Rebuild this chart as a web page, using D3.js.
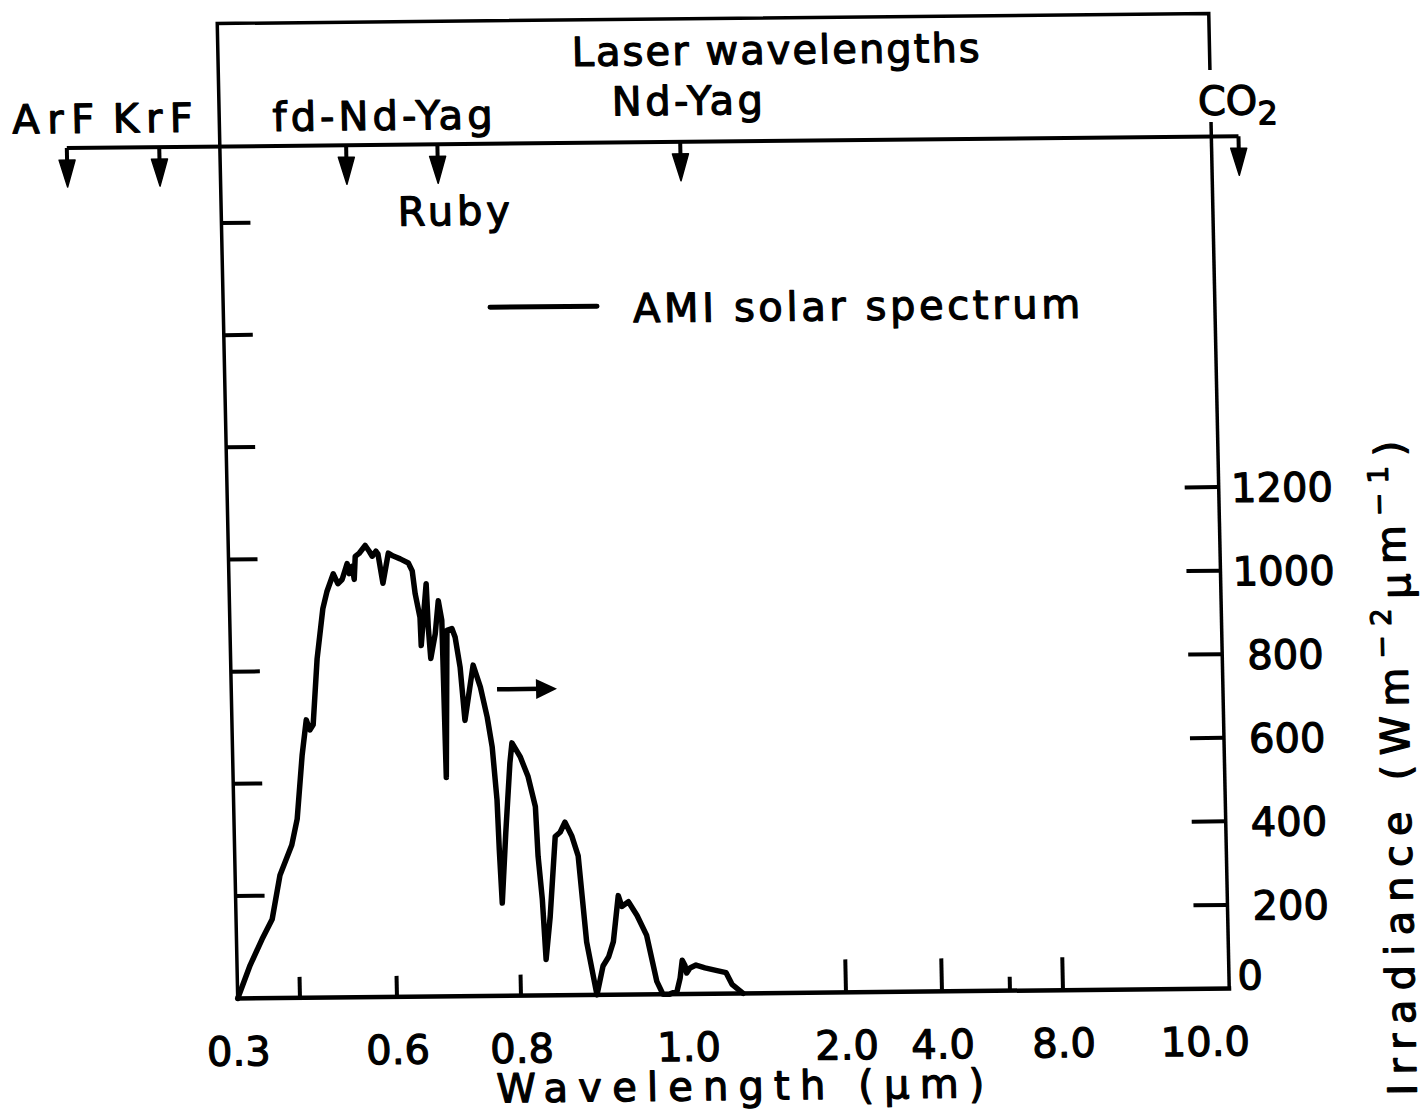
<!DOCTYPE html>
<html>
<head>
<meta charset="utf-8">
<script src="https://cdnjs.cloudflare.com/ajax/libs/d3/7.8.5/d3.min.js"></script>
<style>
  body { margin: 0; background: #fff; }
  svg { display: block; }
  text { font-family: 'DejaVu Sans', sans-serif; font-size: 40px; fill: #000; stroke: #000; stroke-width: 1.2px; stroke-linejoin: round; }
</style>
</head>
<body>
<svg id="chart" width="1426" height="1118"></svg>
<script>
// AM1 solar spectrum (wavelength in um, irradiance in W m-2 um-1)
const wavelength = [0.300, 0.321, 0.341, 0.358, 0.372, 0.392, 0.402, 0.415, 0.425, 0.432,
  0.439, 0.450, 0.464, 0.473, 0.487, 0.496, 0.505, 0.516, 0.520, 0.526,
  0.530, 0.533, 0.541, 0.554, 0.562, 0.568, 0.576, 0.580, 0.589, 0.601,
  0.609, 0.620, 0.633, 0.639, 0.643, 0.650, 0.651, 0.655, 0.661, 0.663,
  0.666, 0.674, 0.680, 0.685, 0.687, 0.693, 0.701, 0.706, 0.713, 0.719,
  0.734, 0.745, 0.755, 0.762, 0.768, 0.770, 0.773, 0.781, 0.790, 0.794,
  0.805, 0.814, 0.822, 0.824, 0.828, 0.831, 0.837, 0.845, 0.851, 0.857,
  0.865, 0.872, 0.876, 0.880, 0.891, 0.899, 0.906, 0.912, 0.919, 0.923,
  0.931, 0.941, 0.952, 0.963, 0.970, 0.978, 0.987, 0.991, 0.994, 0.997,
  0.999, 1.016, 1.055, 1.111, 1.187, 1.244, 1.280, 1.349];
const irradiance = [0, 79, 141, 189, 294, 366, 428, 581, 665, 641,
  653, 811, 931, 971, 1014, 990, 1000, 1038, 1014, 1031,
  1000, 1055, 1062, 1081, 1067, 1055, 1067, 1060, 990, 1062,
  1055, 1048, 1038, 1019, 964, 907, 840, 900, 988, 883,
  809, 868, 947, 900, 524, 876, 880, 859, 787, 660,
  792, 739, 667, 596, 469, 349, 222, 390, 557, 605,
  572, 524, 452, 333, 230, 86, 189, 380, 390, 414,
  380, 333, 230, 127, 0, 69, 91, 127, 237, 211,
  222, 189, 141, 31, 0, 0, 7, 38, 81, 69,
  50, 62, 69, 62, 55, 50, 22, 0];

const lasers = ['ArF', 'KrF', 'fd-Nd-Yag', 'Ruby', 'Nd-Yag', 'CO2'];
const laserWavelength = [0.193, 0.248, 0.532, 0.694, 1.064, 10.6];

const xTickLabels = [0.3, 0.6, 0.8, 1.0, 2.0, 4.0, 8.0, 10.0];
const xTicksShort = [0.4, 0.6, 0.8];
const xTicksLong = [2.0, 4.0, 8.0];
const xTicksMinor = [6.0];
const yTicks = [0, 200, 400, 600, 800, 1000, 1200];
const leftTicks = [1, 2, 3, 4, 5, 6, 7];

const boxLeft = 217.25, boxRight = 1208.75, boxTop = 23.5, boxBottom = 998.5;

// the wavelength axis of the figure is drawn piecewise, not linear or log
const xScale = d3.scaleLinear()
  .domain([0.2, 0.25, 0.3, 0.4, 0.6, 0.8, 1.0, 2.0, 4.0, 6.0, 8.0, 10.0, 11.0])
  .range([76, 160, boxLeft, 279.5, 376.5, 500.5, 667.5, 825.5, 921.5, 989.5, 1042.5, boxRight, 1254]);

const yScale = d3.scaleLinear()
  .domain([0, 1200])
  .range([boxBottom, boxBottom - 501.4]);

// unlabeled ticks on the left edge
const leftScale = d3.scaleLinear()
  .domain([1, 7])
  .range([896, 223]);

const svg = d3.select('#chart');
svg.append('rect').attr('width', 1426).attr('height', 1118).attr('fill', '#fff');

// the scanned figure sits slightly skewed on the page
const g = svg.append('g')
  .attr('transform', `translate(${boxLeft},${boxTop}) matrix(1,-0.0101,0.021,1,0,0) translate(${-boxLeft},${-boxTop})`);

// frame
g.append('path')
  .attr('d', `M${boxLeft},${boxBottom} V${boxTop} H${boxRight} V80`)
  .attr('fill', 'none')
  .attr('stroke', '#000')
  .attr('stroke-width', 3.5);

g.append('path')
  .attr('d', `M${boxRight},132 V${boxBottom}`)
  .attr('fill', 'none')
  .attr('stroke', '#000')
  .attr('stroke-width', 3.5);

g.append('line')
  .attr('x1', boxLeft - 2)
  .attr('x2', boxRight + 2)
  .attr('y1', boxBottom)
  .attr('y2', boxBottom)
  .attr('stroke', '#000')
  .attr('stroke-width', 4.5);

// bottom ticks (pointing up into the plot)
const tickGroups = [
  { values: xTicksShort, len: 21 },
  { values: xTicksLong, len: 33 },
  { values: xTicksMinor, len: 14 }
];
tickGroups.forEach(t => {
  g.selectAll(null)
    .data(t.values)
    .join('line')
    .attr('x1', d => xScale(d))
    .attr('x2', d => xScale(d))
    .attr('y1', boxBottom)
    .attr('y2', boxBottom - t.len)
    .attr('stroke', '#000')
    .attr('stroke-width', 4);
});

g.selectAll('.xlabel')
  .data(xTickLabels)
  .join('text')
  .attr('class', 'xlabel')
  .attr('x', d => xScale(d) + (d === 10 ? -25 : 0))
  .attr('y', boxBottom + 67)
  .attr('text-anchor', 'middle')
  .text(d => d3.format('.1f')(d));

g.append('text')
  .attr('x', 718)
  .attr('y', 1105)
  .attr('text-anchor', 'middle')
  .attr('textLength', 488)
  .attr('lengthAdjust', 'spacing')
  .text('Wavelength (µm)');

// left ticks
g.selectAll('.ltick')
  .data(leftTicks)
  .join('line')
  .attr('class', 'ltick')
  .attr('x1', boxLeft)
  .attr('x2', boxLeft + 29)
  .attr('y1', d => leftScale(d))
  .attr('y2', d => leftScale(d))
  .attr('stroke', '#000')
  .attr('stroke-width', 4);

// right irradiance axis
g.selectAll('.rtick')
  .data(yTicks.filter(d => d > 0))
  .join('line')
  .attr('class', 'rtick')
  .attr('x1', boxRight - 34)
  .attr('x2', boxRight)
  .attr('y1', d => yScale(d))
  .attr('y2', d => yScale(d))
  .attr('stroke', '#000')
  .attr('stroke-width', 4);

g.selectAll('.ylabel')
  .data(yTicks)
  .join('text')
  .attr('class', 'ylabel')
  .attr('x', d => (d === 0 ? 1230 : 1272))
  .attr('y', d => (d === 0 ? yScale(d) + 1 : yScale(d) + 15))
  .attr('text-anchor', 'middle')
  .text(d => d);

const yTitle = g.append('text')
  .attr('transform', 'translate(1394,780) rotate(-90)')
  .attr('text-anchor', 'middle')
  .attr('textLength', 655)
  .attr('lengthAdjust', 'spacing');
yTitle.append('tspan').text('Irradiance (Wm');
yTitle.append('tspan').attr('dy', -16).attr('font-size', 28).text('−2');
yTitle.append('tspan').attr('dy', 20).text('µ');
yTitle.append('tspan').attr('dy', -4).text('m');
yTitle.append('tspan').attr('dy', -16).attr('font-size', 28).text('−1');
yTitle.append('tspan').attr('dy', 16).text(')');

// spectrum
const line = d3.line()
  .x(d => xScale(d[0]))
  .y(d => yScale(d[1]));

g.append('path')
  .datum(d3.zip(wavelength, irradiance))
  .attr('d', line)
  .attr('fill', 'none')
  .attr('stroke', '#000')
  .attr('stroke-width', 5.5)
  .attr('stroke-linejoin', 'round')
  .attr('stroke-linecap', 'round');

// legend
g.append('line')
  .attr('x1', 484)
  .attr('x2', 591)
  .attr('y1', 310)
  .attr('y2', 310)
  .attr('stroke', '#000')
  .attr('stroke-width', 5)
  .attr('stroke-linecap', 'round');

g.append('text')
  .attr('x', 627)
  .attr('y', 326.5)
  .attr('textLength', 447)
  .attr('lengthAdjust', 'spacing')
  .text('AMI solar spectrum');

// arrow pointing at the right-hand axis
g.append('line')
  .attr('x1', 483)
  .attr('x2', 528)
  .attr('y1', 692)
  .attr('y2', 692)
  .attr('stroke', '#000')
  .attr('stroke-width', 4.5);
g.append('path')
  .attr('d', 'M522,682 L543,692 L522,702 Z')
  .attr('fill', '#000');

// laser wavelength strip
const laserY = 146.5;
g.append('text')
  .attr('x', 775)
  .attr('y', 69.5)
  .attr('text-anchor', 'middle')
  .attr('textLength', 408)
  .attr('lengthAdjust', 'spacing')
  .text('Laser wavelengths');

g.append('line')
  .attr('x1', xScale(laserWavelength[0]))
  .attr('x2', xScale(laserWavelength[laserWavelength.length - 1]))
  .attr('y1', laserY)
  .attr('y2', laserY)
  .attr('stroke', '#000')
  .attr('stroke-width', 4);

const arrows = g.selectAll('.laser')
  .data(laserWavelength)
  .join('g')
  .attr('class', 'laser')
  .attr('transform', d => `translate(${xScale(d)},0)`);

arrows.append('line')
  .attr('y1', laserY)
  .attr('y2', laserY + 16)
  .attr('stroke', '#000')
  .attr('stroke-width', 4);

arrows.append('path')
  .attr('d', `M-8,${laserY + 12} L8,${laserY + 12} L0,${laserY + 39} Z`)
  .attr('fill', '#000')
  .attr('stroke', '#000')
  .attr('stroke-width', 1.5)
  .attr('stroke-linejoin', 'round');

// label placement around each arrow
const laserLabelPos = {
  'ArF': { dx: -13, y: 131.5, w: 82 },
  'KrF': { dx: -6, y: 131.5, w: 80 },
  'fd-Nd-Yag': { dx: 37, y: 131.5, w: 220 },
  'Ruby': { dx: 15, y: 227.5, w: 112 },
  'Nd-Yag': { dx: 8, y: 119.5, w: 151 },
  'CO2': { dx: 0, y: 125, w: 0 }
};

lasers.forEach((name, i) => {
  const p = laserLabelPos[name];
  const t = g.append('text')
    .attr('x', xScale(laserWavelength[i]) + p.dx)
    .attr('y', p.y)
    .attr('text-anchor', 'middle');
  if (name === 'CO2') {
    t.append('tspan').text('CO');
    t.append('tspan').attr('dy', 10).attr('font-size', 32).text('2');
  } else {
    t.attr('textLength', p.w).attr('lengthAdjust', 'spacing').text(name);
  }
});
</script>
</body>
</html>
